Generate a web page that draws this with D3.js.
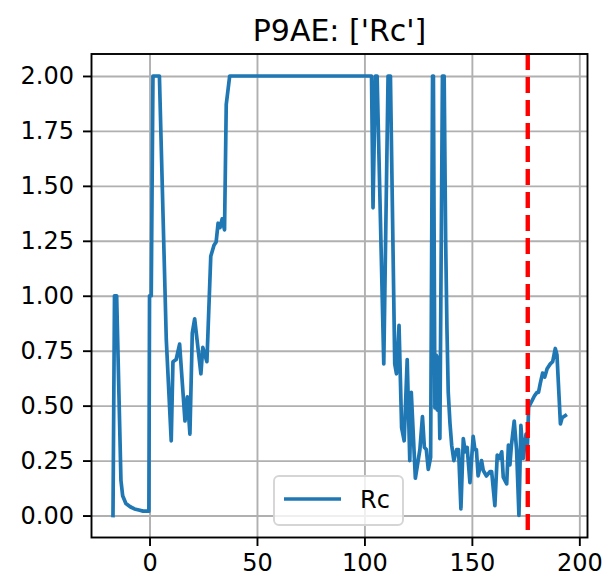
<!DOCTYPE html>
<html>
<head>
<meta charset="utf-8">
<script src="https://cdn.jsdelivr.net/npm/d3@7"></script>
<style>
  body { margin: 0; background: #fff; }
  svg { display: block; font-family: "DejaVu Sans", sans-serif; }
</style>
</head>
<body>
<div id="chart-area"></div>
<script>
// Rc values, x = day
var days = [
  -17.0, -16.3, -15.3, -13.3, -12.5, -11.0, -9.0, -7.0, -5.0, -3.0, -0.3,
  0.0, 0.8, 1.6, 4.6, 7.8, 10.1, 10.9, 12.4, 14.0, 16.5, 17.6, 18.8, 19.9,
  21.0, 23.9, 24.8, 26.7, 28.5, 30.0, 31.0, 31.9, 32.8, 33.8, 34.9, 35.7,
  37.3, 103.3, 104.0, 105.1, 105.9, 109.0, 111.0, 112.1, 114.1, 114.9,
  116.1, 117.3, 118.5, 119.9, 121.1, 121.8, 123.7, 125.8, 127.0, 127.9,
  128.8, 129.7, 130.8, 131.7, 132.1, 132.8, 133.4, 133.9, 134.4, 135.1,
  136.3, 137.1, 137.8, 138.4, 139.0, 139.8, 140.6, 141.6, 142.9, 143.8,
  144.9, 146.0, 146.9, 147.8, 149.1, 150.6, 151.4, 152.1, 152.9, 154.5,
  155.3, 156.8, 158.4, 159.2, 160.7, 161.8, 162.8, 163.9, 164.6, 166.2,
  167.0, 167.7, 168.4, 169.7, 170.8, 171.9, 172.8, 173.9, 175.2, 175.8,
  176.4, 178.0, 179.2, 180.3, 181.0, 181.8, 182.9, 183.9, 185.0, 186.5,
  187.6, 188.8, 189.6, 191.2, 192.0, 193.5
];
var rc = [
  0.00, 1.00, 1.00, 0.16, 0.09, 0.055, 0.04, 0.03, 0.025, 0.02, 0.02,
  1.00, 1.00, 2.00, 2.00, 0.80, 0.34, 0.70, 0.71, 0.78, 0.43, 0.54, 0.37, 0.83,
  0.895, 0.645, 0.765, 0.70, 1.18, 1.23, 1.245, 1.33, 1.31, 1.35, 1.30, 1.87,
  2.00, 2.00, 1.40, 2.00, 2.00, 0.69, 2.00, 2.00, 0.69, 0.645,
  0.865, 0.40, 0.34, 0.71, 0.25, 0.56, 0.17, 0.30, 0.45, 0.31,
  0.30, 0.21, 0.265, 2.00, 2.00, 0.49, 0.73, 0.48, 0.72, 0.35,
  2.00, 2.00, 1.25, 0.85, 0.56, 0.42, 0.32, 0.25, 0.30, 0.30,
  0.03, 0.35, 0.29, 0.31, 0.15, 0.36, 0.30, 0.30, 0.18, 0.25,
  0.205, 0.18, 0.20, 0.20, 0.045, 0.275, 0.26, 0.29, 0.175, 0.144,
  0.32, 0.23, 0.32, 0.43, 0.30, 0.00, 0.41, 0.26, 0.37, 0.30,
  0.493, 0.523, 0.546, 0.56, 0.56, 0.60, 0.648, 0.63, 0.668, 0.69,
  0.70, 0.76, 0.73, 0.417, 0.445, 0.455
];
var xTicks = [0, 50, 100, 150, 200];
var yTicks = [0, 0.25, 0.5, 0.75, 1.0, 1.25, 1.5, 1.75, 2.0];
var markerDay = 176;
var seriesName = "Rc";
var title = "P9AE: ['Rc']";

var width = 607, height = 585;
var margin = { left: 91.5, right: 19.5, top: 54, bottom: 47.5 };

var data = days.map(function(d, i) {
  return { day: d, value: rc[i] };
});

var svg = d3.select("#chart-area")
  .append("svg")
  .attr("width", width)
  .attr("height", height);

var x = d3.scaleLinear()
  .domain([-27, 203.8])
  .range([margin.left, width - margin.right]);

var y = d3.scaleLinear()
  .domain([-0.1, 2.1])
  .range([height - margin.bottom, margin.top]);

// grid
svg.append("g")
  .attr("transform", "translate(0," + (height - margin.bottom) + ")")
  .call(d3.axisBottom(x).tickValues(xTicks).tickSize(-(height - margin.top - margin.bottom)).tickFormat(""))
  .call(function(g) { g.select(".domain").remove(); })
  .selectAll("line")
  .attr("stroke", "#b0b0b0")
  .attr("stroke-width", 1.9);

svg.append("g")
  .attr("transform", "translate(" + margin.left + ",0)")
  .call(d3.axisLeft(y).tickValues(yTicks).tickSize(-(width - margin.left - margin.right)).tickFormat(""))
  .call(function(g) { g.select(".domain").remove(); })
  .selectAll("line")
  .attr("stroke", "#b0b0b0")
  .attr("stroke-width", 1.9);

svg.append("clipPath")
  .attr("id", "plot-clip")
  .append("rect")
  .attr("x", margin.left)
  .attr("y", margin.top)
  .attr("width", width - margin.left - margin.right)
  .attr("height", height - margin.top - margin.bottom);

var line = d3.line()
  .x(function(d) { return x(d.day); })
  .y(function(d) { return y(d.value); });

svg.append("path")
  .datum(data)
  .attr("clip-path", "url(#plot-clip)")
  .attr("fill", "none")
  .attr("stroke", "#1f77b4")
  .attr("stroke-width", 3.7)
  .attr("stroke-linejoin", "round")
  .attr("stroke-linecap", "square")
  .attr("d", line);

svg.append("line")
  .attr("clip-path", "url(#plot-clip)")
  .attr("x1", x(markerDay))
  .attr("x2", x(markerDay))
  .attr("y1", margin.top)
  .attr("y2", height - margin.bottom)
  .attr("stroke", "red")
  .attr("stroke-width", 4.4)
  .attr("stroke-dasharray", "16,7");

// axes
var xAxis = svg.append("g")
  .attr("transform", "translate(0," + (height - margin.bottom) + ")")
  .call(d3.axisBottom(x).tickValues(xTicks).tickSize(8.5).tickPadding(8).tickFormat(d3.format("d")));

var yAxis = svg.append("g")
  .attr("transform", "translate(" + margin.left + ",0)")
  .call(d3.axisLeft(y).tickValues(yTicks).tickSize(8.5).tickPadding(9).tickFormat(d3.format(".2f")));

[xAxis, yAxis].forEach(function(g) {
  g.select(".domain").remove();
  g.selectAll("line").attr("stroke", "#000").attr("stroke-width", 1.9);
  g.selectAll("text")
    .attr("fill", "#000")
    .style("font-family", "'DejaVu Sans', sans-serif")
    .style("font-size", "24px");
});

svg.append("rect")
  .attr("x", margin.left)
  .attr("y", margin.top)
  .attr("width", width - margin.left - margin.right)
  .attr("height", height - margin.top - margin.bottom)
  .attr("fill", "none")
  .attr("stroke", "#000")
  .attr("stroke-width", 1.9);

// title
svg.append("text")
  .attr("x", (margin.left + width - margin.right) / 2)
  .attr("y", 41)
  .attr("text-anchor", "middle")
  .style("font-size", "30px")
  .text(title);

// legend
var legend = svg.append("g");
legend.append("rect")
  .attr("x", 274)
  .attr("y", 476)
  .attr("width", 129)
  .attr("height", 49)
  .attr("rx", 5)
  .attr("fill", "#fff")
  .attr("fill-opacity", 0.8)
  .attr("stroke", "#d5d5d5")
  .attr("stroke-width", 1.9);
legend.append("line")
  .attr("x1", 284)
  .attr("x2", 341)
  .attr("y1", 499)
  .attr("y2", 499)
  .attr("stroke", "#1f77b4")
  .attr("stroke-width", 3.7);
legend.append("text")
  .attr("x", 360)
  .attr("y", 508)
  .style("font-size", "24px")
  .text(seriesName);
</script>
</body>
</html>
